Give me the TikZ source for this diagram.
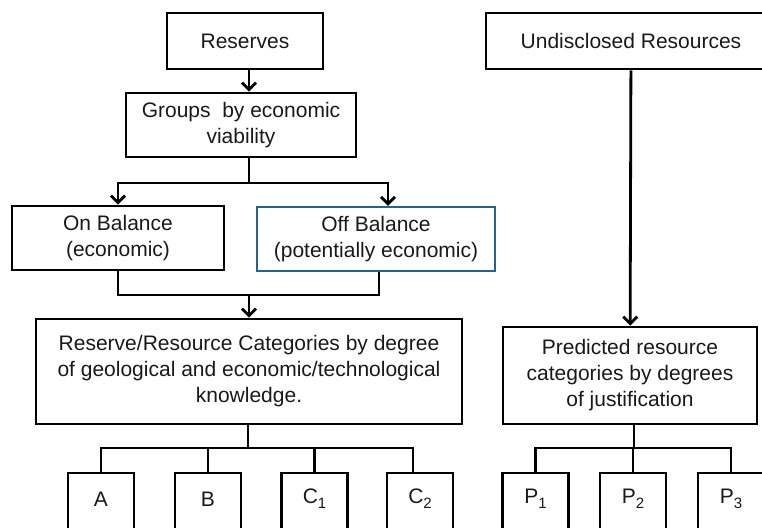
\documentclass[tikz,border=0pt]{standalone}
\usepackage{fontspec}
\setmainfont{Liberation Sans}
\usetikzlibrary{arrows.meta,calc}
\definecolor{inkgray}{RGB}{25,25,25}
\definecolor{offblue}{RGB}{35,100,150}
% lowered index digit, as in C_1 or P_3
\newcommand{\lowidx}[1]{\raisebox{-5pt}{\fontsize{15}{15}\selectfont #1}}
\begin{document}
\begin{tikzpicture}[x=1pt,y=-1pt,
  every node/.style={font=\fontsize{21}{26}\selectfont, text=inkgray},
  box/.style={draw=black, line width=2.8pt, rectangle, align=center, inner sep=0pt},
  leaf/.style={box, minimum width=66pt, minimum height=60pt},
  conn/.style={draw=black, line width=2.8pt},
  arr/.style={conn, -{Straight Barb[length=7pt,width=14pt]}}]
  \useasboundingbox (0,0) rectangle (762,527);
  \clip (0,0) rectangle (762,527);

  % left column: reserves
  \node[box, minimum width=156pt, minimum height=56pt] (res) at (245,41) {Reserves};
  \node[box, minimum width=230pt, minimum height=64pt] (grp) at (241,125)
    {Groups\ \ by economic\\viability};
  \node[box, minimum width=212pt, minimum height=64pt] (on) at (118,238)
    {On Balance\\(economic)};
  \node[box, draw=offblue, line width=2.2pt, minimum width=238pt, minimum height=64pt] (off) at (376,239)
    {Off Balance\\(potentially economic)};
  \node[box, minimum width=426pt, minimum height=105pt] (cat) at (249,371.5)
    {Reserve/Resource Categories by degree\\of geological and economic/technological\\knowledge.};

  \node[leaf, label={[yshift=4pt]center:A}] (a) at (101,503) {};
  \node[leaf, label={[yshift=4pt]center:B}] (b) at (208,503) {};
  \node[leaf, label={[yshift=4pt]center:C\lowidx{1}}] (cone) at (314.5,503) {};
  \node[leaf, label={[yshift=4pt]center:C\lowidx{2}}] (ctwo) at (420,503) {};

  % right column: undisclosed resources
  \node[box, minimum width=290pt, minimum height=56pt] (und) at (631,41) {Undisclosed Resources};
  \node[box, minimum width=254pt, minimum height=97pt] (pred) at (630,375.5)
    {Predicted resource\\categories by degrees\\of justification};

  \node[leaf, label={[yshift=4pt]center:P\lowidx{1}}] (pone) at (535.5,503) {};
  \node[leaf, label={[yshift=4pt]center:P\lowidx{2}}] (ptwo) at (633,503) {};
  \node[leaf, label={[yshift=4pt]center:P\lowidx{3}}] (pthree) at (731,503) {};

  % connectors, left column
  \coordinate (spine) at (249,0);
  \coordinate (split) at (249,183);
  \coordinate (merge) at (249,295);
  \coordinate (catbar) at (248,448);
  \draw[arr] (res.south -| spine) -- (grp.north -| spine);
  \draw[conn] (grp.south -| split) -- (split);
  \draw[arr] (split) -| (on.north);
  \draw[arr] (split) -| ($(off.north)+(12,0)$);
  \draw[conn] (on.south) |- (merge) -| ($(off.south)+(3,0)$);
  \draw[arr] (merge) -- (cat.north -| merge);
  \draw[conn] (cat.south -| catbar) -- (catbar);
  \draw[conn] (a.north) |- (catbar) -| ($(ctwo.north)+(-7,0)$);
  \draw[conn] (b.north) -- (b.north |- catbar);
  \draw[conn] (cone.north) -- (cone.north |- catbar);

  % connectors, right column
  \coordinate (predbar) at (634,448);
  \draw[arr] (und) -- (pred);
  \draw[conn] (pred.south -| predbar) -- (predbar);
  \draw[conn] (pone.north) |- (predbar) -| (pthree.north);
  \draw[conn] (ptwo.north) -- (ptwo.north |- predbar);
\end{tikzpicture}
\end{document}
